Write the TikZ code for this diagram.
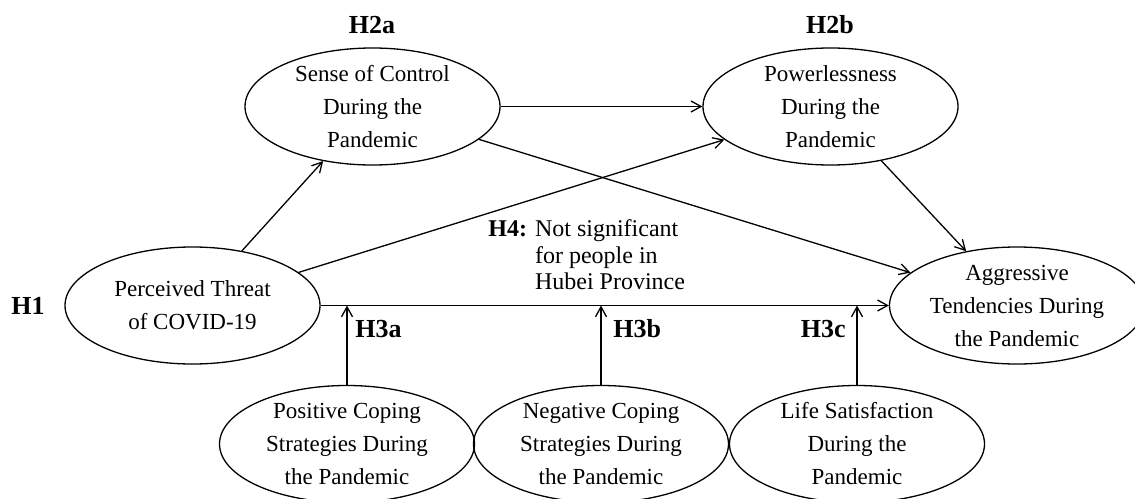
\documentclass[tikz,border=0pt]{standalone}
\usepackage{fontspec}
\setmainfont{Liberation Serif}
\usetikzlibrary{shapes.geometric}
\usetikzlibrary{arrows.meta}
\tikzset{construct/.style={draw, ellipse, line width=0.65pt, minimum width=127.5pt, minimum height=58.5pt, inner xsep=0pt, inner ysep=-3pt, align=center, font=\fontsize{11.5}{16.5}\selectfont}}
\tikzset{hyp/.style={inner sep=0pt, font=\fontsize{13}{15}\selectfont\bfseries}}
\tikzset{path arrow/.style={line width=0.65pt, -{Straight Barb[length=5pt,width=5.5pt]}}}

\begin{document}
\begin{tikzpicture}[x=0.5pt, y=-0.5pt]
        \clip (0,0) rectangle (1135,498);
        \node [construct] (control) at (372.5,106.5) {Sense of Control\\During the\\Pandemic};
        \node [construct] (power) at (830.5,106.5) {Powerlessness\\During the\\Pandemic};
        \node [construct] (threat) at (192.5,305.5) {Perceived Threat\\of COVID-19};
        \node [construct] (aggr) at (1017,305.5) {Aggressive\\Tendencies During\\the Pandemic};
        \node [construct] (poscope) at (347,444) {Positive Coping\\Strategies During\\the Pandemic};
        \node [construct] (negcope) at (601,444) {Negative Coping\\Strategies During\\the Pandemic};
        \node [construct] (lifesat) at (857,444) {Life Satisfaction\\During the\\Pandemic};
        \node [hyp] (h1) at (28,306) {H1};
        \node [hyp] (h2a) at (372,25) {H2a};
        \node [hyp] (h2b) at (830,25) {H2b};
        \node [hyp, anchor=west] (h3a) at (355,329) {H3a};
        \node [hyp, anchor=west] (h3b) at (613,329) {H3b};
        \node [hyp, anchor=east] (h3c) at (846,329) {H3c};
        \node [anchor=west, inner sep=0pt, font=\fontsize{12}{13.3}\selectfont] (h4) at (488,258) {\begin{tabular}{@{}l@{ }l@{}}\textbf{H4:} & Not significant\\ & for people in\\ & Hubei Province\end{tabular}};
        \draw [path arrow] (threat) -- (control);
        \draw [path arrow] (control) -- (power);
        \draw [path arrow] (threat) -- (power);
        \draw [path arrow] (control) -- (aggr);
        \draw [path arrow] (power) -- (aggr);
        \draw [path arrow] (threat.east) -- (aggr.west);
        \draw [path arrow] (poscope.north) -- (poscope.north |- threat.east);
        \draw [path arrow] (negcope.north) -- (negcope.north |- threat.east);
        \draw [path arrow] (lifesat.north) -- (lifesat.north |- threat.east);
    \end{tikzpicture}
\end{document}
